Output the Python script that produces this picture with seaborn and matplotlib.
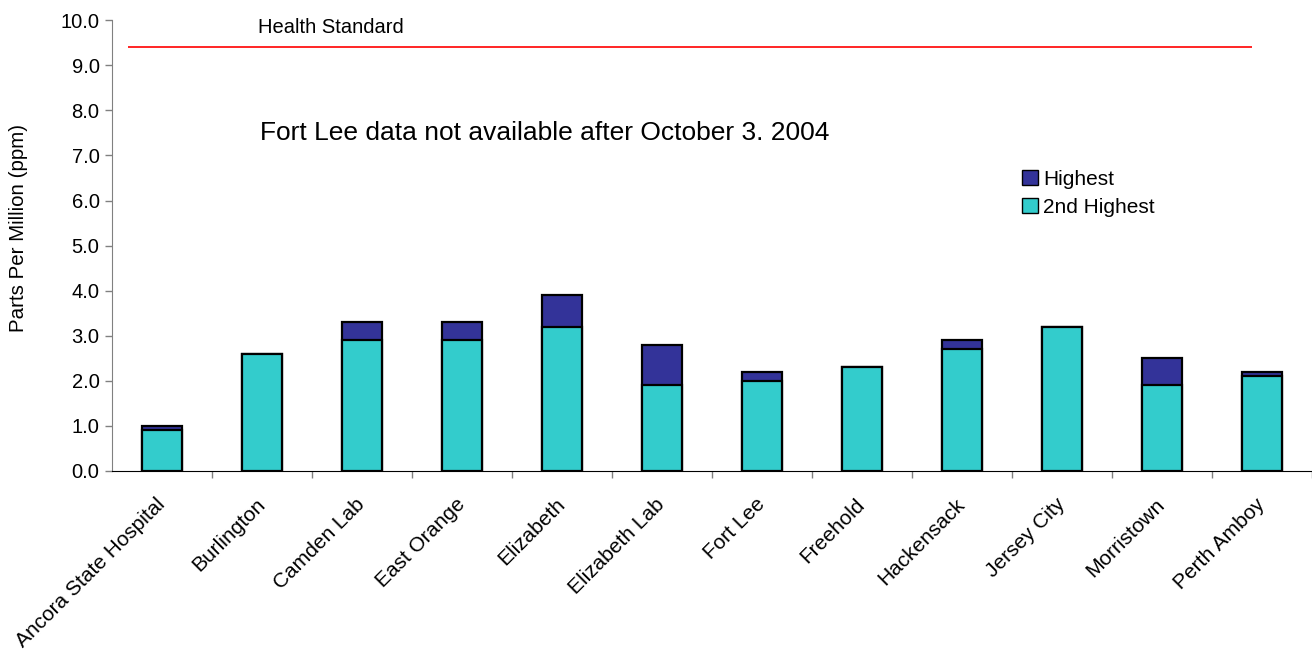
import matplotlib
matplotlib.use("Agg")
import matplotlib.pyplot as plt
import seaborn as sns
import pandas as pd
from matplotlib.patches import Patch

# Data
sites = ["Ancora State Hospital", "Burlington", "Camden Lab", "East Orange",
         "Elizabeth", "Elizabeth Lab", "Fort Lee", "Freehold", "Hackensack",
         "Jersey City", "Morristown", "Perth Amboy"]
highest = [1.0, 2.6, 3.3, 3.3, 3.9, 2.8, 2.2, 2.3, 2.9, 3.2, 2.5, 2.2]
second_highest = [0.9, 2.6, 2.9, 2.9, 3.2, 1.9, 2.0, 2.3, 2.7, 3.2, 1.9, 2.1]
health_standard = 9.4
y_ticks = [0, 1, 2, 3, 4, 5, 6, 7, 8, 9, 10]

dark = "#333399"
cyan = "#33CCCC"

df = pd.DataFrame({"site": sites, "highest": highest, "second": second_highest})

sns.set_style("white")
plt.rcParams["font.family"] = ["Liberation Sans", "DejaVu Sans"]
plt.rcParams["text.color"] = "black"
plt.rcParams["axes.labelcolor"] = "black"
plt.rcParams["xtick.color"] = "black"
plt.rcParams["ytick.color"] = "black"

fig = plt.figure(figsize=(13.12, 6.51), dpi=100)
ax = fig.add_axes([0.0854, 0.2765, 0.9146, 0.6925])

# highest drawn full height, 2nd highest overlaid on top of it
sns.barplot(data=df, x="site", y="highest", order=sites, color=dark,
            width=0.4, edgecolor="black", linewidth=1.6, saturation=1, ax=ax)
sns.barplot(data=df, x="site", y="second", order=sites, color=cyan,
            width=0.4, edgecolor="black", linewidth=1.6, saturation=1, ax=ax)

ax.set_xlim(-0.5, len(sites) - 0.5)
ax.set_ylim(0, 10)
ax.set_yticks(y_ticks)
ax.set_yticklabels([f"{v:.1f}" for v in y_ticks], fontsize=14.5)
ax.tick_params(axis="y", length=5, width=1, color="#808080", left=True, pad=4)

# labels at category centres, tick marks at boundaries
ax.set_xticks(range(len(sites)))
ax.set_xticklabels(sites, rotation=45, ha="right", va="center",
                   rotation_mode="anchor", fontsize=15)
ax.tick_params(axis="x", which="major", length=0, pad=22)
ax.set_xticks([i + 0.5 for i in range(len(sites))], minor=True)
ax.tick_params(axis="x", which="minor", length=5, width=1, color="#808080", bottom=True)

ax.set_xlabel("")
ax.set_ylabel("Parts Per Million (ppm)", fontsize=14.8)
ax.yaxis.set_label_coords(-0.07, 0.54)

for side in ["top", "right"]:
    ax.spines[side].set_visible(False)
ax.spines["left"].set_color("#808080")
ax.spines["bottom"].set_color("black")

ax.hlines(health_standard, -0.34, 10.9, color="red", linewidth=1.2)
ax.text(0.96, 9.62, "Health Standard", fontsize=14.5, va="bottom", ha="left")
ax.text(0.98, 7.5, "Fort Lee data not available after October 3. 2004",
        fontsize=19, va="center", ha="left")

handles = [Patch(facecolor=dark, edgecolor="black", label="Highest"),
           Patch(facecolor=cyan, edgecolor="black", label="2nd Highest")]
ax.legend(handles=handles, loc="upper left", bbox_to_anchor=(0.743, 0.71),
          frameon=False, fontsize=15, handlelength=0.75, handleheight=0.75,
          handletextpad=0.25, labelspacing=0.45)

fig.savefig("out.png", dpi=100)
